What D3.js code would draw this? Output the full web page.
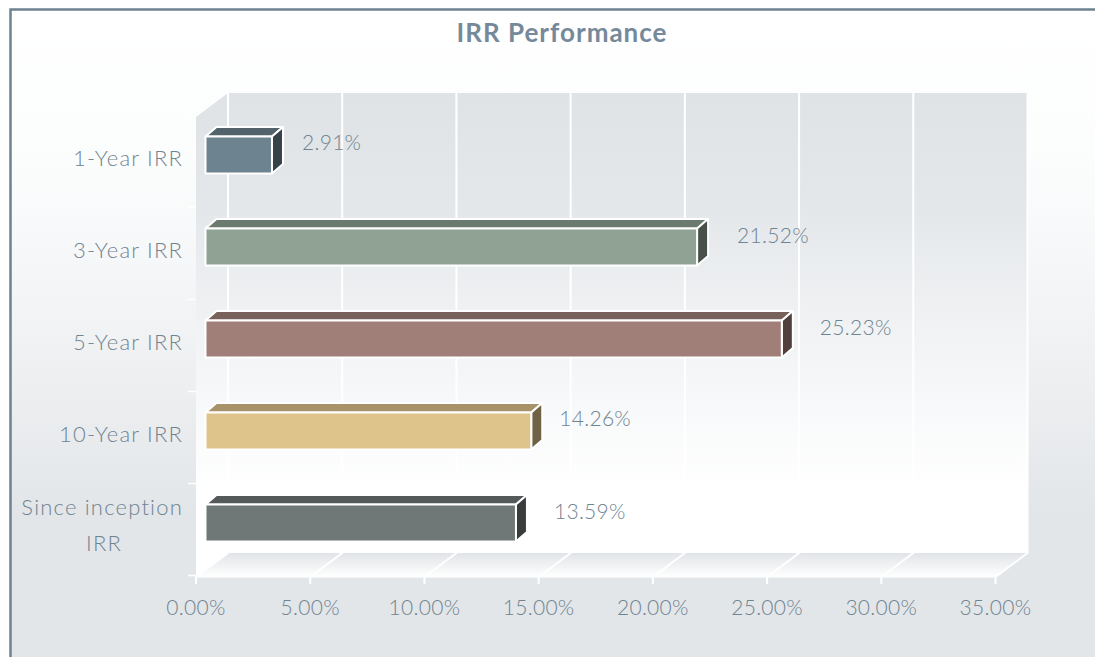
<!DOCTYPE html>
<html><head><meta charset="utf-8">
<script src="https://cdn.jsdelivr.net/npm/d3@7/dist/d3.min.js"></script>
<style>html,body{margin:0;padding:0;background:#fff}svg{display:block}text{font-family:Lato,"Open Sans",sans-serif;fill:#6f8491;font-weight:300}</style>
</head><body><div id="chart"></div>
<script>
const title = "IRR Performance";
const categories = ["1-Year IRR","3-Year IRR","5-Year IRR","10-Year IRR","Since inception IRR"];
const values = [2.91,21.52,25.23,14.26,13.59];
const frontColors = ["#6e8390","#8fa293","#a07f79","#dec48a","#6f7876"];
const topColors = ["#53636c","#6b7a6e","#78605b","#a79367","#535a59"];
const sideColors = ["#374248","#475149","#50403d","#6f6245","#383c3b"];
const xTicks = [0,5,10,15,20,25,30,35];
const labelGaps = [30,40,38,28,38];
const labelRises = [-3,-2,-2,-3,-2];

const W=1095,H=657;
const svg=d3.select("#chart").append("svg").attr("width",W).attr("height",H);
const defs=svg.append("defs");
function grad(id,stops,y1,y2){
  const g=defs.append("linearGradient").attr("id",id).attr("gradientUnits","userSpaceOnUse")
    .attr("x1",0).attr("x2",0).attr("y1",y1).attr("y2",y2);
  stops.forEach(s=>g.append("stop").attr("offset",s[0]).attr("stop-color",s[1]));
}
grad("bg",[[0,"#ffffff"],[0.28,"#fcfdfd"],[0.5,"#f6f7f8"],[0.8,"#ebedef"],[1,"#e3e6e9"]],10,510);
grad("wall",[[0,"#e0e3e6"],[0.28,"#e4e7ea"],[0.53,"#eef0f2"],[0.8,"#f8f9fa"],[1,"#ffffff"]],93,490);
grad("floor",[[0,"#e1e4e7"],[1,"#ffffff"]],553,577);

const x=d3.scaleLinear().domain([0,35]).range([196,995.5]);
const y=d3.scaleBand().domain(categories).range([115,575]);
const dx=32,dy=24,wallTop=93,floorY=577,wallBot=floorY-dy;
const barInset=9.5,barDx=11,barDy=9.5,barH=37;

svg.append("rect").attr("width",W).attr("height",H).attr("fill","#fff");
svg.append("rect").attr("x",10).attr("y",10).attr("width",W-10).attr("height",H-10).attr("fill","url(#bg)");
svg.append("path").attr("d",`M10.5,${H}V9.5H${W}`).attr("fill","none").attr("stroke","#6e8390").attr("stroke-width",2.5);

// wall, side wall, floor
svg.append("rect").attr("x",x(0)+dx).attr("y",wallTop).attr("width",x(35)-x(0)).attr("height",wallBot-wallTop).attr("fill","url(#wall)");
svg.append("path").attr("d",`M${x(0)},${floorY}V${wallTop+dy}L${x(0)+dx},${wallTop}V${wallBot}Z`).attr("fill","url(#wall)");
svg.append("path").attr("d",`M${x(0)},${floorY}L${x(0)+dx},${wallBot}H${x(35)+dx}L${x(35)},${floorY}Z`).attr("fill","url(#floor)");

// gridlines
svg.append("g").selectAll("path").data(xTicks).join("path")
  .attr("d",t=>`M${x(t)},${floorY+7}V${floorY}L${x(t)+dx},${wallBot}V${wallTop}`)
  .attr("fill","none").attr("stroke","#fff").attr("stroke-width",2);
svg.append("g").selectAll("line").data(y.domain().map(c=>y(c)).concat(575)).join("line")
  .attr("x1",188).attr("x2",196).attr("y1",d=>d+.5).attr("y2",d=>d+.5).attr("stroke","#fff").attr("stroke-width",1.5);
svg.append("line").attr("x1",x(0)).attr("x2",x(35)).attr("y1",floorY).attr("y2",floorY).attr("stroke","#fff").attr("stroke-width",1);

// bars
const bars=svg.append("g").selectAll("g").data(categories).join("g");
const bx0=x(0)+barInset;
const bw=v=>x(v)-x(0);
const by=c=>y(c)+y.bandwidth()/2-barH/2-6;
bars.each(function(c,i){
  const g=d3.select(this),v=values[i],t=by(c),r=bx0+bw(v);
  const st={stroke:"#fff","stroke-width":2,"stroke-linejoin":"round"};
  const p=(d,f)=>{const e=g.append("path").attr("d",d).attr("fill",f);Object.entries(st).forEach(([k,val])=>e.attr(k,val));};
  p(`M${bx0},${t}L${bx0+barDx},${t-barDy}H${r+barDx}L${r},${t}Z`,topColors[i]);
  p(`M${r},${t}L${r+barDx},${t-barDy}V${t+barH-barDy}L${r},${t+barH}Z`,sideColors[i]);
  p(`M${bx0},${t}H${r}V${t+barH}H${bx0}Z`,frontColors[i]);
  g.append("text").attr("x",r+labelGaps[i]).attr("y",t+barH/2+labelRises[i]-9.5+7)
    .attr("font-size",21).attr("letter-spacing",0.3).text(d3.format(".2f")(v)+"%");
});

// category labels
const catG=svg.append("g").attr("text-anchor","end").attr("font-size",22).attr("letter-spacing",1.2);
categories.forEach((c,i)=>{
  const my=y(c)+y.bandwidth()/2+4;
  if(c.startsWith("Since")){
    catG.append("text").attr("x",183).attr("y",my-17-1).text("Since inception");
    catG.append("text").attr("x",122).attr("y",my+19-1).text("IRR");
  } else catG.append("text").attr("x",183).attr("y",my+1).text(c);
});

// x axis labels
svg.append("g").attr("text-anchor","middle").attr("font-size",21).attr("letter-spacing",0.3)
  .selectAll("text").data(xTicks).join("text").attr("x",d=>x(d)).attr("y",615).text(d=>d3.format(".2f")(d)+"%");

svg.append("text").attr("x",562).attr("y",42).attr("text-anchor","middle").attr("font-size",26)
  .attr("letter-spacing",1).style("font-weight",700).style("fill","#75899a").text(title);
</script></body></html>
